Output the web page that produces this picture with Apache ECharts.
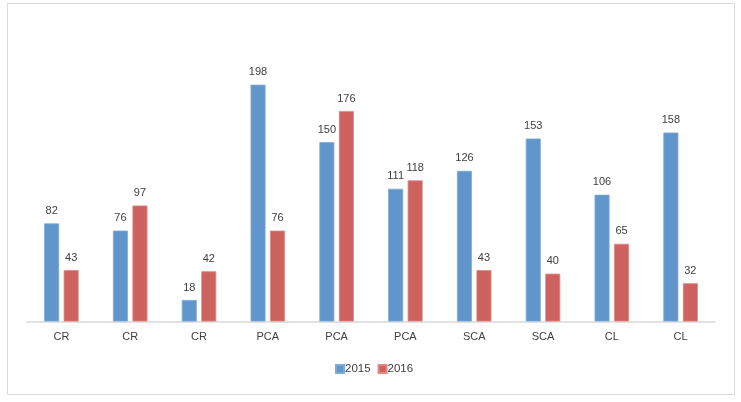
<!DOCTYPE html>
<html>
<head>
<meta charset="utf-8">
<script src="https://cdn.jsdelivr.net/npm/echarts@6/dist/echarts.min.js"></script>
<style>
html,body{margin:0;padding:0;background:#fff;}
#c{width:741px;height:402px;}
</style>
</head>
<body>
<div id="c"></div>
<script>
const categories = ['CR','CR','CR','PCA','PCA','PCA','SCA','SCA','CL','CL'];
const seriesNames = ['2015','2016'];
const values2015 = [82, 76, 18, 198, 150, 111, 126, 153, 106, 158];
const values2016 = [43, 97, 42, 76, 176, 118, 43, 40, 65, 32];

const chart = echarts.init(document.getElementById('c'));
const font = 'Liberation Sans, Arial, sans-serif';
const labelStyle = {show:true, position:'top', distance:7, color:'#404040', fontSize:11, fontFamily:font};
chart.setOption({
  animation:false,
  backgroundColor:'#fff',
  graphic:[{type:'rect', shape:{x:7.5,y:3.5,width:727,height:391}, style:{fill:'none', stroke:'#d9d9d9', lineWidth:1}, silent:true}],
  grid:{left:27, right:26, top:22.5, bottom:80.5, containLabel:false},
  legend:{
    data:seriesNames, bottom:22, left:330, icon:'rect', itemWidth:8, itemHeight:8, itemGap:7,
    textStyle:{color:'#404040', fontSize:11.5, fontFamily:font, padding:[0,0,0,-4]}
  },
  xAxis:{
    type:'category', data:categories,
    axisLine:{lineStyle:{color:'#d9d9d9', width:1.5}},
    axisTick:{show:false},
    axisLabel:{color:'#404040', fontSize:11, fontFamily:font, margin:10, interval:0}
  },
  yAxis:{type:'value', min:0, max:250, show:false, splitLine:{show:false}},
  series:[
    {name:seriesNames[0], type:'bar', data:values2015, barWidth:15, barGap:'30%',
     itemStyle:{color:'#6096cb', borderColor:'#7fa9d6', borderWidth:0.8}, label:labelStyle},
    {name:seriesNames[1], type:'bar', data:values2016, barWidth:15,
     itemStyle:{color:'#cd625f', borderColor:'#dc8a88', borderWidth:0.8}, label:labelStyle}
  ]
});
</script>
</body>
</html>
